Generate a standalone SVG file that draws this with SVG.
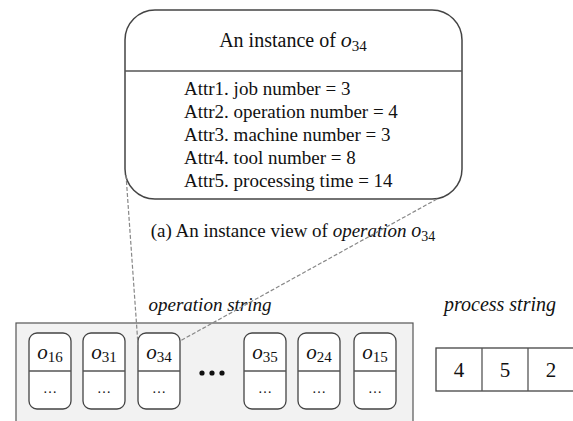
<svg xmlns="http://www.w3.org/2000/svg" width="573" height="421" viewBox="0 0 573 421">
  <style>
    .t { font-family: "Liberation Serif", Tinos, "Nimbus Roman", "DejaVu Serif", serif; fill: #111; }
    .it { font-style: italic; }
    .outline { fill: #fff; stroke: #444; stroke-width: 1.5; }
    .cell { fill: #fff; stroke: #444; stroke-width: 1.3; }
    .rule { stroke: #555; stroke-width: 1.3; }
    .link { stroke: #888; stroke-width: 1.2; stroke-dasharray: 4 2; fill: none; }
    .sym { font-size: 21px; }
    .sub { font-size: 15px; }
  </style>
  <rect width="573" height="421" fill="#fff"/>

  <!-- instance detail card -->
  <g id="instance">
    <rect class="outline" x="125" y="10" width="337" height="189" rx="30" ry="30"/>
    <line class="rule" x1="125" y1="71" x2="462" y2="71"/>
    <text class="t" x="293" y="47" font-size="20" text-anchor="middle">An instance of <tspan class="it" font-size="22">o</tspan><tspan font-size="15" dy="4">34</tspan></text>
    <g class="t" font-size="19">
      <text x="184" y="95">Attr1. job number = 3</text>
      <text x="184" y="118">Attr2. operation number = 4</text>
      <text x="184" y="141">Attr3. machine number = 3</text>
      <text x="184" y="164">Attr4. tool number = 8</text>
      <text x="184" y="187">Attr5. processing time = 14</text>
    </g>
  </g>

  <text id="caption" class="t" x="293" y="237" font-size="19" text-anchor="middle">(a) An instance view of <tspan class="it">operation </tspan><tspan class="it" font-size="20">o</tspan><tspan font-size="14" dy="4">34</tspan></text>

  <!-- operation string -->
  <g id="operation-string">
    <text class="t it" x="210" y="311" font-size="19" text-anchor="middle">operation string</text>
    <rect x="16" y="323" width="397" height="110" fill="#f2f2f2" stroke="#555" stroke-width="1.2"/>
  </g>

  <g id="op-o16">
    <rect class="cell" x="29" y="333" width="42" height="76" rx="8"/>
    <line class="rule" x1="29" y1="371" x2="71" y2="371"/>
    <text class="t" x="50" y="359" text-anchor="middle"><tspan class="it sym">o</tspan><tspan class="sub" dy="3">16</tspan></text>
    <text class="t" x="50" y="393" font-size="14" text-anchor="middle">…</text>
  </g>
  <g id="op-o31">
    <rect class="cell" x="83" y="333" width="42" height="76" rx="8"/>
    <line class="rule" x1="83" y1="371" x2="125" y2="371"/>
    <text class="t" x="104" y="359" text-anchor="middle"><tspan class="it sym">o</tspan><tspan class="sub" dy="3">31</tspan></text>
    <text class="t" x="104" y="393" font-size="14" text-anchor="middle">…</text>
  </g>
  <g id="op-o34">
    <rect class="cell" x="138" y="333" width="42" height="76" rx="8"/>
    <line class="rule" x1="138" y1="371" x2="180" y2="371"/>
    <text class="t" x="159" y="359" text-anchor="middle"><tspan class="it sym">o</tspan><tspan class="sub" dy="3">34</tspan></text>
    <text class="t" x="159" y="393" font-size="14" text-anchor="middle">…</text>
  </g>
  <g id="ellipsis" fill="#111">
    <circle cx="202" cy="373" r="2.6"/>
    <circle cx="212" cy="373" r="2.6"/>
    <circle cx="222" cy="373" r="2.6"/>
  </g>
  <g id="op-o35">
    <rect class="cell" x="244" y="333" width="42" height="76" rx="8"/>
    <line class="rule" x1="244" y1="371" x2="286" y2="371"/>
    <text class="t" x="265" y="359" text-anchor="middle"><tspan class="it sym">o</tspan><tspan class="sub" dy="3">35</tspan></text>
    <text class="t" x="265" y="393" font-size="14" text-anchor="middle">…</text>
  </g>
  <g id="op-o24">
    <rect class="cell" x="298" y="333" width="42" height="76" rx="8"/>
    <line class="rule" x1="298" y1="371" x2="340" y2="371"/>
    <text class="t" x="319" y="359" text-anchor="middle"><tspan class="it sym">o</tspan><tspan class="sub" dy="3">24</tspan></text>
    <text class="t" x="319" y="393" font-size="14" text-anchor="middle">…</text>
  </g>
  <g id="op-o15">
    <rect class="cell" x="354" y="333" width="42" height="76" rx="8"/>
    <line class="rule" x1="354" y1="371" x2="396" y2="371"/>
    <text class="t" x="375" y="359" text-anchor="middle"><tspan class="it sym">o</tspan><tspan class="sub" dy="3">15</tspan></text>
    <text class="t" x="375" y="393" font-size="14" text-anchor="middle">…</text>
  </g>

  <!-- process string -->
  <g id="process-string">
    <text class="t it" x="500" y="311" font-size="20" text-anchor="middle">process string</text>
    <rect x="436" y="348" width="140" height="43" fill="#fff" stroke="#444" stroke-width="1.3"/>
    <line class="rule" x1="482" y1="348" x2="482" y2="391"/>
    <line class="rule" x1="528" y1="348" x2="528" y2="391"/>
    <g class="t" font-size="21" text-anchor="middle">
      <text x="459" y="377">4</text>
      <text x="505" y="377">5</text>
      <text x="551" y="377">2</text>
    </g>
  </g>

  <!-- projection lines from o34 to its instance card -->
  <g id="connectors">
    <line class="link" x1="126" y1="175" x2="138" y2="345"/>
    <line class="link" x1="437" y1="199" x2="180" y2="341"/>
  </g>
</svg>
